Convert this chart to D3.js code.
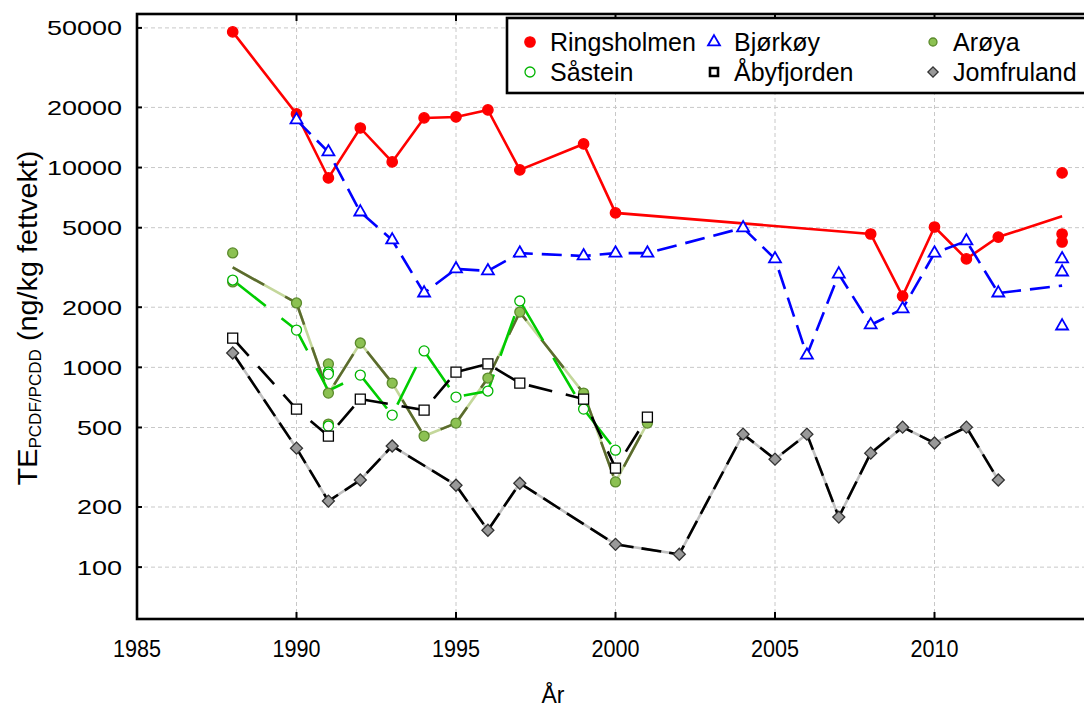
<!DOCTYPE html>
<html>
<head>
<meta charset="utf-8">
<script src="https://cdn.jsdelivr.net/npm/d3@7"></script>
<style>
body { margin: 0; background: #fff; }
text { font-family: "Liberation Sans", Arial, sans-serif; fill: #000; }
</style>
</head>
<body>
<script>
const width = 1084;
const height = 709;

// [year, value] - repeated years are replicate samples
const ringsholmen = [[1988, 47750], [1990, 18550], [1991, 8870], [1992, 15780], [1993, 10670],
  [1994, 17720], [1995, 17920], [1996, 19420], [1997, 9730], [1999, 13130], [2000, 5930],
  [2008, 4650], [2009, 2275], [2010, 5040], [2011, 3490], [2012, 4490],
  [2014, 9400], [2014, 4650], [2014, 4240]];
const bjorkoy = [[1990, 17320], [1991, 11970], [1992, 5990], [1993, 4340], [1994, 2355],
  [1995, 3110], [1996, 3040], [1997, 3730], [1999, 3610], [2000, 3730], [2001, 3730],
  [2004, 4990], [2005, 3490], [2006, 1150], [2007, 2930], [2008, 1630], [2009, 1960],
  [2010, 3730], [2011, 4290], [2012, 2355], [2014, 3490], [2014, 3000], [2014, 1610]];
const aroya = [[1988, 3740], [1988, 2675], [1990, 2100], [1991, 1040], [1991, 743], [1991, 520],
  [1992, 1324], [1993, 834], [1994, 453], [1995, 526], [1996, 884], [1997, 1890],
  [1999, 743], [2000, 267], [2001, 526]];
const sastein = [[1988, 2735], [1990, 1537], [1991, 947], [1991, 925], [1991, 508], [1992, 915],
  [1993, 577], [1994, 1208], [1995, 710], [1996, 761], [1997, 2148], [1999, 618], [2000, 385]];
const abyfjorden = [[1988, 1402], [1990, 618], [1991, 453], [1992, 694], [1994, 611],
  [1995, 947], [1996, 1040], [1997, 834], [1999, 694], [2000, 313], [2001, 564]];
const jomfruland = [[1988, 1180], [1990, 394], [1991, 214], [1992, 273], [1993, 404],
  [1995, 257], [1996, 153], [1997, 263], [2000, 130], [2002, 116], [2004, 463], [2005, 347],
  [2006, 463], [2007, 178], [2008, 372], [2009, 502], [2010, 418], [2011, 502], [2012, 273]];

const xTicks = [1985, 1990, 1995, 2000, 2005, 2010];
const yTicks = [100, 200, 500, 1000, 2000, 5000, 10000, 20000, 50000];

const series = [
  { name: "Ringsholmen", data: ringsholmen, symbol: "circle", r: 5.2, fill: "#ff0000", stroke: "#ff0000",
    line: [{ color: "#ff0000", dash: null }] },
  { name: "Bjørkøy", data: bjorkoy, symbol: "triangle", fill: "#fff", stroke: "#0000ff",
    line: [{ color: "#0000ff", dash: "20,9" }] },
  { name: "Arøya", data: aroya, symbol: "circle", r: 5, fill: "#8cc152", stroke: "#5b8a2c",
    line: [{ color: "#c4d79b", dash: null }, { color: "#5b6b2e", dash: "36,24" }] },
  { name: "Såstein", data: sastein, symbol: "circle", r: 5, fill: "#fff", stroke: "#00b400",
    line: [{ color: "#00cc00", dash: "42,20" }] },
  { name: "Åbyfjorden", data: abyfjorden, symbol: "square", fill: "#fff", stroke: "#000",
    line: [{ color: "#000", dash: "24,14" }] },
  { name: "Jomfruland", data: jomfruland, symbol: "diamond", fill: "#999", stroke: "#333",
    line: [{ color: "#c0c0c0", dash: null }, { color: "#000", dash: "20,8" }] }
];

(function () {
  const pL = 137, pR = 1094, pT = 14, pB = 619;
  const x = d3.scaleLinear().domain([1985, 2015]).range([pL, pR]);
  const y = d3.scaleLog().domain([55, 58700]).range([pB, pT]);

  const svg = d3.select("body").append("svg")
    .attr("width", width).attr("height", height);

  // grid
  svg.append("g").selectAll("line").data(yTicks).join("line")
    .attr("x1", pL).attr("x2", pR)
    .attr("y1", d => y(d)).attr("y2", d => y(d))
    .attr("stroke", "#c8c8c8").attr("stroke-dasharray", "4,3");
  svg.append("g").selectAll("line").data(xTicks.slice(1)).join("line")
    .attr("x1", d => x(d)).attr("x2", d => x(d))
    .attr("y1", pT).attr("y2", pB)
    .attr("stroke", "#c8c8c8").attr("stroke-dasharray", "4,3");

  // series lines (through geometric mean of replicates)
  const plot = svg.append("g");
  const line = d3.line().x(d => x(d[0])).y(d => y(d[1]));
  series.forEach(function (s) {
    const pts = d3.rollups(s.data, v => Math.exp(d3.mean(v, d => Math.log(d[1]))), d => d[0])
      .sort((a, b) => a[0] - b[0]);
    s.line.forEach(function (l) {
      plot.append("path").datum(pts)
        .attr("d", line).attr("fill", "none")
        .attr("stroke", l.color).attr("stroke-width", 2.6)
        .attr("stroke-dasharray", l.dash);
    });
  });

  function marker(g, s, k, sw) {
    if (s.symbol === "circle") {
      g.append("circle").attr("r", s.r * k);
    } else if (s.symbol === "triangle") {
      g.append("path").attr("d", d3.symbol(d3.symbolTriangle, 62 * k * k)());
    } else if (s.symbol === "square") {
      g.append("path").attr("d", d3.symbol(d3.symbolSquare, 100 * k * k)());
    } else {
      g.append("path").attr("d", d3.symbol(d3.symbolSquare, 72 * k * k)()).attr("transform", "rotate(45)");
    }
    g.selectAll("circle,path")
      .attr("fill", s.fill).attr("stroke", s.stroke)
      .attr("stroke-width", sw || (s.symbol === "triangle" ? 1.8 : 1.3));
  }

  series.forEach(function (s) {
    plot.append("g").selectAll("g").data(s.data).join("g")
      .attr("transform", d => "translate(" + x(d[0]) + "," + y(d[1]) + ")")
      .each(function () { marker(d3.select(this), s, 1); });
  });

  // frame
  svg.append("rect").attr("x", pL).attr("y", pT)
    .attr("width", pR - pL + 10).attr("height", pB - pT)
    .attr("fill", "none").attr("stroke", "#000").attr("stroke-width", 2.6);

  // ticks
  svg.append("g").selectAll("line").data(xTicks).join("line")
    .attr("x1", d => x(d)).attr("x2", d => x(d))
    .attr("y1", pB).attr("y2", pB - 7).attr("stroke", "#000").attr("stroke-width", 2);
  svg.append("g").selectAll("line").data(xTicks).join("line")
    .attr("x1", d => x(d)).attr("x2", d => x(d))
    .attr("y1", pT).attr("y2", pT + 7).attr("stroke", "#000").attr("stroke-width", 2);
  svg.append("g").selectAll("line").data(yTicks).join("line")
    .attr("x1", pL).attr("x2", pL + 5)
    .attr("y1", d => y(d)).attr("y2", d => y(d)).attr("stroke", "#000").attr("stroke-width", 2);

  // tick labels
  svg.append("g").selectAll("text").data(xTicks).join("text")
    .attr("x", d => x(d)).attr("y", 657)
    .attr("text-anchor", "middle").attr("font-size", 24)
    .attr("textLength", 48).attr("lengthAdjust", "spacingAndGlyphs")
    .text(d => d);
  svg.append("g").selectAll("text").data(yTicks).join("text")
    .attr("x", 122).attr("y", d => y(d) + 7.5)
    .attr("text-anchor", "end").attr("font-size", 21)
    .attr("textLength", d => String(d).length * 15).attr("lengthAdjust", "spacingAndGlyphs")
    .text(d => d);

  // axis titles
  svg.append("text").attr("x", 553).attr("y", 703)
    .attr("text-anchor", "middle").attr("font-size", 23).text("År");
  const yt = svg.append("text")
    .attr("text-anchor", "middle").attr("font-size", 27);
  yt.append("tspan").text("TE");
  yt.append("tspan").attr("font-size", 16).attr("dy", 4).text("PCDF/PCDD");
  yt.append("tspan").attr("dy", -4).text(" (ng/kg fettvekt)");
  const tw = yt.node().getComputedTextLength();
  yt.attr("transform", "translate(37,318) rotate(-90) scale(" + (335 / tw) + ",1)");

  // legend
  const lg = svg.append("g");
  lg.append("rect").attr("x", 507).attr("y", 18).attr("width", 600).attr("height", 75)
    .attr("fill", "#fff").attr("stroke", "#000").attr("stroke-width", 2.6);
  const colX = [530, 714, 933];
  const rowY = [42, 72];
  series.forEach(function (s, i) {
    const cx = colX[i % 3], cy = rowY[Math.floor(i / 3)];
    const g = lg.append("g").attr("transform", "translate(" + cx + "," + cy + ")");
    if (s.name === "Arøya") marker(g, s, 0.8);
    else if (s.name === "Åbyfjorden") marker(g, s, 0.8, 2.6);
    else if (s.name === "Jomfruland") marker(g, s, 0.85);
    else marker(g, s, 1);
    lg.append("text").attr("x", cx + 20).attr("y", cy + 9)
      .attr("font-size", 25)
      .text(s.name);
  });
})();
</script>
</body>
</html>
